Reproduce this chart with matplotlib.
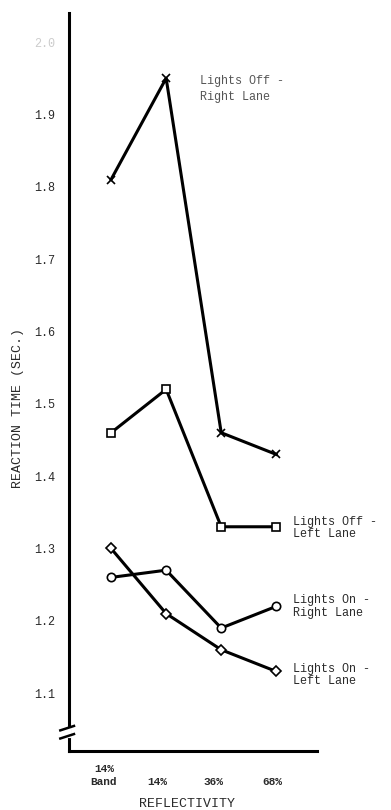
import matplotlib.pyplot as plt
import numpy as np

# reflectivity conditions and reaction times (sec.)
categories = ["14%\nBand", "14%", "36%", "68%"]
off_right = [1.81, 1.95, 1.46, 1.43]
off_left = [1.46, 1.52, 1.33, 1.33]
on_right = [1.26, 1.27, 1.19, 1.22]
on_left = [1.30, 1.21, 1.16, 1.13]
y_ticks = [1.1, 1.2, 1.3, 1.4, 1.5, 1.6, 1.7, 1.8, 1.9, 2.0]

series = [
    (off_right, "x", "Lights Off -\nRight Lane"),
    (off_left, "s", "Lights Off -\nLeft Lane"),
    (on_right, "o", "Lights On -\nRight Lane"),
    (on_left, "D", "Lights On -\nLeft Lane"),
]

plt.rcParams['font.family'] = ['Liberation Mono', 'DejaVu Sans Mono']
txt = '#2a2a2a'

fig = plt.figure(figsize=(3.91, 8.10), dpi=100)
ax = fig.add_axes([0.1765, 0.0728, 0.635, 0.911])

x = np.arange(len(categories))
for vals, mk, name in series:
    ms = 6 if mk != "D" else 5.5
    ax.plot(x, vals, color='black', linewidth=2.2, marker=mk, markersize=ms,
            markerfacecolor='white', markeredgecolor='black',
            markeredgewidth=1.2, zorder=3)

# series labels
ax.text(1.62, 1.935, series[0][2], fontsize=8.5, color='#555555', va='center',
        linespacing=1.4)
ax.text(3.3, 1.328, series[1][2], fontsize=8.5, color=txt, va='center',
        linespacing=1.05)
ax.text(3.3, 1.22, series[2][2], fontsize=8.5, color=txt, va='center',
        linespacing=1.05)
ax.text(3.3, 1.125, series[3][2], fontsize=8.5, color=txt, va='center',
        linespacing=1.05)

ax.set_xlim(-0.764, 3.745)
ax.set_ylim(1.02, 2.04)

ax.set_yticks(y_ticks)
ax.set_yticklabels([f"{v:.1f}" for v in y_ticks], fontsize=8.5, color=txt)
# single-line labels sit on the same row as "Band"
xlabels = [c if "\n" in c else "\n" + c for c in categories]
ax.set_xticks(x - np.array([0.13, 0.16, 0.15, 0.07]))
ax.set_xticklabels(xlabels, fontsize=8, color=txt, fontweight='bold',
                   linespacing=1.4)
ax.tick_params(axis='y', length=0, pad=10)
ax.tick_params(axis='x', length=0, pad=9)
ax.get_yticklabels()[-1].set_color('#cccccc')

for s in ['top', 'right']:
    ax.spines[s].set_visible(False)
for s in ['left', 'bottom']:
    ax.spines[s].set_linewidth(2.2)

ax.set_ylabel("REACTION TIME (SEC.)", fontsize=9.5, color=txt)
ax.yaxis.set_label_coords(-0.18, 0.465)
ax.set_xlabel("REFLECTIVITY", fontsize=9.5, color=txt)
ax.xaxis.set_label_coords(0.476, -0.064)

# axis break marks
for yb in [0.031, 0.020]:
    ax.plot([-0.035, 0.02], [yb - 0.003, yb + 0.003], transform=ax.transAxes,
            color='black', linewidth=1.8, clip_on=False, zorder=4)
ax.plot([0, 0], [0.021, 0.030], transform=ax.transAxes, color='white',
        linewidth=3, clip_on=False, zorder=3.5)

fig.savefig("out.png", dpi=100)
